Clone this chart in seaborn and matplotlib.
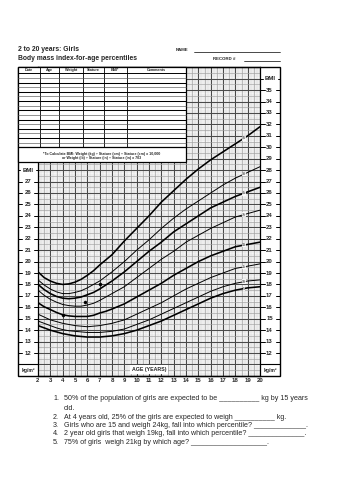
import numpy as np
import pandas as pd
import matplotlib
matplotlib.use("Agg")
import matplotlib.pyplot as plt
from matplotlib.patches import Rectangle
import seaborn as sns

# percentile curves, girls 2-20 years (BMI kg/m2)
ages = [2, 2.5, 3, 3.5, 4, 4.5, 5, 5.5, 6, 6.5, 7, 7.5, 8,
        9, 10, 11, 12, 13, 14, 15, 16, 17, 18, 19, 20]
p5 = [14.4, 14.2, 14.0, 13.85, 13.7, 13.6, 13.5, 13.45, 13.4, 13.4, 13.4, 13.45, 13.5,
      13.7, 14.0, 14.4, 14.8, 15.3, 15.8, 16.3, 16.8, 17.2, 17.5, 17.7, 17.8]
p10 = [14.8, 14.6, 14.4, 14.2, 14.05, 13.95, 13.9, 13.85, 13.8, 13.8, 13.8, 13.85, 13.9,
       14.1, 14.5, 14.9, 15.4, 15.9, 16.4, 16.9, 17.4, 17.8, 18.1, 18.3, 18.4]
p25 = [15.4, 15.15, 14.9, 14.75, 14.6, 14.5, 14.4, 14.35, 14.3, 14.35, 14.4, 14.5, 14.6,
       14.9, 15.4, 15.9, 16.4, 17.0, 17.6, 18.1, 18.6, 19.0, 19.4, 19.6, 19.8]
p50 = [16.4, 16.05, 15.8, 15.55, 15.35, 15.25, 15.2, 15.2, 15.2, 15.3, 15.5, 15.65, 15.85,
       16.3, 16.9, 17.5, 18.1, 18.8, 19.4, 20.0, 20.5, 20.9, 21.3, 21.5, 21.7]
p75 = [17.5, 17.05, 16.7, 16.45, 16.25, 16.15, 16.1, 16.1, 16.2, 16.35, 16.6, 16.9, 17.2,
       17.8, 18.6, 19.4, 20.2, 20.9, 21.7, 22.3, 22.9, 23.4, 23.9, 24.2, 24.5]
p85 = [18.0, 17.55, 17.2, 16.95, 16.8, 16.75, 16.8, 16.9, 17.1, 17.3, 17.6, 17.95, 18.3,
       19.1, 20.0, 20.9, 21.7, 22.6, 23.3, 24.0, 24.7, 25.2, 25.7, 26.1, 26.5]
p90 = [18.4, 17.95, 17.6, 17.35, 17.2, 17.2, 17.3, 17.45, 17.7, 18.0, 18.3, 18.7, 19.1,
       20.0, 21.0, 21.9, 22.9, 23.8, 24.6, 25.3, 26.0, 26.7, 27.3, 27.8, 28.3]
p95 = [19.1, 18.6, 18.3, 18.1, 18.0, 18.05, 18.2, 18.45, 18.8, 19.2, 19.7, 20.15, 20.6,
       21.8, 22.9, 24.0, 25.2, 26.2, 27.2, 28.1, 28.9, 29.6, 30.3, 31.0, 31.8]
pct_names = ["5", "10", "25", "50", "75", "85", "90", "95"]
pct_values = [p5, p10, p25, p50, p75, p85, p90, p95]
bold_pcts = ["5", "50", "85", "95"]

# plotted visits
visit_age = [4.0, 5.8, 7.0]
visit_bmi = [15.3, 16.5, 18.0]

age_ticks = list(range(2, 21))
left_bmi = list(range(12, 28))
right_bmi = list(range(12, 36))

table_cols = ["Date", "Age", "Weight", "Stature", "BMI*", "Comments"]
questions = [
    "50% of the population of girls are expected to be __________ kg by 15 years",
    "At 4 years old, 25% of the girls are expected to weigh __________ kg.",
    "Girls who are 15 and weigh 24kg, fall into which percentile? _____________.",
    "2 year old girls that weigh 19kg, fall into which percentile? ______________.",
    "75% of girls  weigh 21kg by which age? ___________________.",
]

sns.set_style("white")
plt.rcParams["font.family"] = ["Liberation Sans", "DejaVu Sans"]

W, H = 353, 500
fig = plt.figure(figsize=(W / 100, H / 100), dpi=100)
ax = fig.add_axes([38 / W, 1 - 375.9 / H, 222 / W, (375.9 - 67.25) / H])
ax.set_facecolor("#f6f6f6")
ax.set_xlim(2, 20)
ax.set_ylim(10, 37)

# grid
ax.vlines(np.arange(2, 20, 0.25), 10, 37, color="#d2d2d2", lw=0.3, zorder=0.3)
ax.hlines(np.arange(10, 37, 0.2), 2, 20, color="#d2d2d2", lw=0.3, zorder=0.3)
ax.set_xticks(age_ticks)
ax.set_xticks(np.arange(2, 20.01, 0.5), minor=True)
ax.set_yticks(range(10, 38))
ax.set_yticks(np.arange(10, 37.01, 0.5), minor=True)
ax.grid(which="minor", color="#a0a0a0", lw=0.45, zorder=0.4)
ax.grid(which="major", color="#4a4a4a", lw=0.75, zorder=0.5)
ax.set_axisbelow(True)
ax.tick_params(which="both", length=0)
ax.tick_params(axis="y", labelleft=False)
ax.set_xticklabels([str(a) for a in age_ticks], fontsize=4.3, fontweight="bold")
ax.tick_params(axis="x", pad=1.6)
for s in ax.spines.values():
    s.set_color("black")
    s.set_linewidth(0.9)

# percentile curves
df = pd.DataFrame({
    "age": ages * len(pct_names),
    "bmi": [v for vals in pct_values for v in vals],
    "pct": [p for p in pct_names for _ in ages],
})
sizes = {p: (1.15 if p in bold_pcts else 0.7) for p in pct_names}
sns.lineplot(data=df, x="age", y="bmi", hue="pct", size="pct", sizes=sizes,
             palette={p: "black" for p in pct_names}, legend=False, ax=ax, zorder=3)
ax.set_xlabel("")
ax.set_ylabel("")

lab_age = 18.7
for p, vals in zip(pct_names, pct_values):
    ax.text(lab_age, np.interp(lab_age, ages, vals), p, fontsize=2.6, ha="center",
            va="center", zorder=4,
            bbox=dict(fc="white", ec="none", pad=0.2, alpha=0.85))

sns.scatterplot(x=visit_age, y=visit_bmi, color="black", s=5, ax=ax, zorder=5,
                edgecolor="black", linewidth=0.3)

ax.text(11, 10.55, "AGE (YEARS)", fontsize=3.8, fontweight="bold", ha="center",
        va="center", zorder=6, bbox=dict(fc="white", ec="none", pad=1.2))

# side columns with BMI scale
yt = ax.get_yaxis_transform()


def fx(px):
    return (px - 38) / 222


def col_label(cx, x0, x1, v, txt, half):
    ax.text(fx(cx), v, txt, transform=yt, fontsize=4.3, fontweight="bold",
            ha="center", va="center")
    ax.plot([fx(x0), fx(x0 + half)], [v, v], transform=yt, clip_on=False,
            color="black", lw=0.7)
    ax.plot([fx(x1 - half), fx(x1)], [v, v], transform=yt, clip_on=False,
            color="black", lw=0.7)


for v in left_bmi:
    col_label(28, 18, 38, v, str(v), 4)
col_label(28.5, 18, 38, 28, "BMI", 2)
for v in right_bmi:
    col_label(269.5, 260, 280, v, str(v), 4.5)
col_label(270, 260, 280, 36, "BMI", 2.5)
for cx, x0, x1 in [(28, 18, 38), (270, 260, 280)]:
    ax.text(fx(cx), 10.5, "kg/m²", transform=yt, fontsize=3.6, fontweight="bold",
            ha="center", va="center")
    ax.plot([fx(x0), fx(x1)], [11, 11], transform=yt, clip_on=False,
            color="black", lw=0.8)

# overlay in pixel coordinates: frame, record table, titles, questions
ov = fig.add_axes([0, 0, 1, 1])
ov.set_xlim(0, W)
ov.set_ylim(H, 0)
ov.axis("off")

ov.add_patch(Rectangle((18, 67.25), 262, 375.9 - 67.25, fill=False, ec="black", lw=1.0))
ov.add_patch(Rectangle((18, 67.25), 186 - 18, 162 - 67.25, fc="white", ec="black", lw=0.9))
col_edges = [18, 40, 59.3, 82.7, 104, 126.7, 186]
for x in col_edges[1:-1]:
    ov.plot([x, x], [67.25, 147.3], color="black", lw=0.6)
ov.plot([18, 186], [73.3, 73.3], color="black", lw=0.7)
rows = np.linspace(73.3, 147.3, 17)
for i, y in enumerate(rows[1:-1]):
    ov.plot([18, 186], [y, y], color="black" if i % 2 else "#555555",
            lw=0.75 if i % 2 else 0.45)
ov.plot([18, 186], [147.3, 147.3], color="black", lw=0.9)
for name, x0, x1 in zip(table_cols, col_edges[:-1], col_edges[1:]):
    ov.text((x0 + x1) / 2, 70.4, name, fontsize=2.7, fontweight="bold",
            ha="center", va="center")
ov.text(102, 153.7, "*To Calculate BMI: Weight (kg) ÷ Stature (cm) ÷ Stature (cm) x 10,000",
        fontsize=2.6, fontweight="bold", ha="center", va="center")
ov.text(102, 158.4, "or Weight (lb) ÷ Stature (in) ÷ Stature (in) x 703",
        fontsize=2.6, fontweight="bold", ha="center", va="center")

ov.text(18, 49.5, "2 to 20 years: Girls", fontsize=4.9, fontweight="bold",
        ha="left", va="center")
ov.text(18, 58.5, "Body mass index-for-age percentiles", fontsize=4.9,
        fontweight="bold", ha="left", va="center")
ov.text(176, 50, "NAME", fontsize=3.2, fontweight="bold", ha="left", va="center")
ov.plot([194, 280], [52.3, 52.3], color="black", lw=0.5)
ov.text(213, 59, "RECORD #", fontsize=3.2, fontweight="bold", ha="left", va="center")
ov.plot([244, 280], [61, 61], color="black", lw=0.5)

q_y = [399, 417.3, 425.3, 433.3, 442]
for i, (q, y) in enumerate(zip(questions, q_y)):
    ov.text(53, y, f"{i + 1}.", fontsize=5.1, ha="left", va="center")
    ov.text(64, y, q, fontsize=5.1, ha="left", va="center")
ov.text(64, 409, "old.", fontsize=5.1, ha="left", va="center")

fig.savefig("out.png", dpi=100)
